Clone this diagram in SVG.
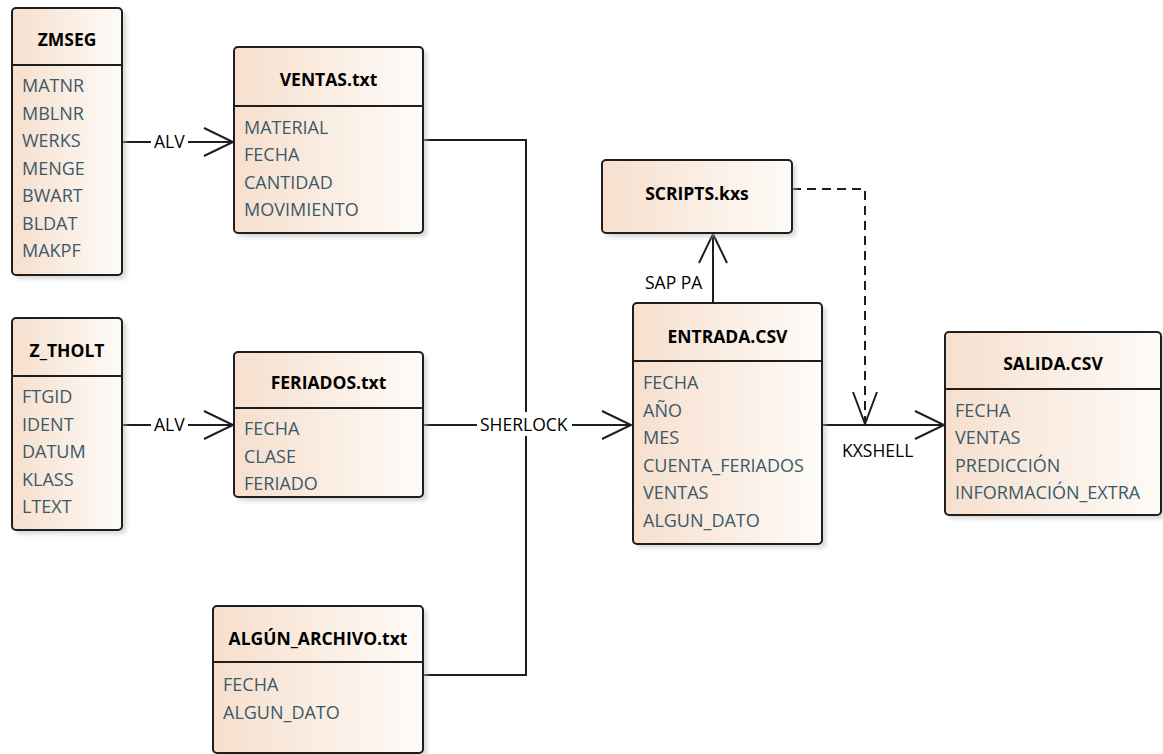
<svg xmlns="http://www.w3.org/2000/svg" width="1163" height="754" viewBox="0 0 1163 754">
  <style>
    .box { fill: url(#peach); stroke: #1e1e1e; stroke-width: 2; }
    .shadow { fill: #b8b8b8; opacity: 0.55; filter: url(#soft); }
    .div { stroke: #1e1e1e; stroke-width: 2; }
    .title { font-family: "Open Sans", "Noto Sans", sans-serif; font-weight: bold; font-size: 17.5px; fill: #000; text-anchor: middle; }
    .field { font-family: "Open Sans", "Noto Sans", sans-serif; font-size: 18px; fill: #3b5a69; }
    .lbl { font-family: "Open Sans", "Noto Sans", sans-serif; font-size: 17.5px; fill: #000; }
    .edge { fill: none; stroke: #1e1e1e; stroke-width: 2; }
    .dash { fill: none; stroke: #1e1e1e; stroke-width: 2; stroke-dasharray: 9 6; }
    .head { fill: none; stroke: #1e1e1e; stroke-width: 2; }
  </style>
  <defs>
    <linearGradient id="peach" x1="0" y1="0" x2="1" y2="0">
      <stop offset="0" stop-color="#f6dfcd"/>
      <stop offset="1" stop-color="#fefbf8"/>
    </linearGradient>
    <filter id="soft" x="-10%" y="-10%" width="120%" height="120%">
      <feGaussianBlur stdDeviation="2"/>
    </filter>
  </defs>
  <rect width="1163" height="754" fill="#fff"/>

  <!-- connectors -->
  <g id="connectors">
    <!-- ZMSEG -> VENTAS.txt (ALV) -->
    <path class="edge" d="M122 142 H233"/>
    <path class="head" d="M204 128 L233 142 L204 156"/>
    <rect x="151" y="131" width="37" height="22" fill="#fff"/>
    <text class="lbl" x="154" y="148">ALV</text>
    <!-- Z_THOLT -> FERIADOS.txt (ALV) -->
    <path class="edge" d="M122 425 H233"/>
    <path class="head" d="M204 411 L233 425 L204 439"/>
    <rect x="151" y="414" width="37" height="22" fill="#fff"/>
    <text class="lbl" x="154" y="431">ALV</text>
    <!-- sources merge into ENTRADA.CSV (SHERLOCK) -->
    <path class="edge" d="M423 140 H526 V675 H423"/>
    <path class="edge" d="M423 425 H631"/>
    <path class="head" d="M602 411 L631 425 L602 439"/>
    <rect x="477" y="412" width="95" height="24" fill="#fff"/>
    <text class="lbl" x="480" y="431">SHERLOCK</text>
    <!-- ENTRADA.CSV -> SCRIPTS.kxs (SAP PA) -->
    <path class="edge" d="M713 303 V234"/>
    <path class="head" d="M699 263 L713 234 L727 263"/>
    <text class="lbl" x="645" y="289">SAP PA</text>
    <!-- SCRIPTS.kxs -> KXSHELL connector (dashed) -->
    <path class="dash" d="M792 189 H865 V424"/>
    <path class="head" d="M853 392 L865 424 L877 392"/>
    <!-- ENTRADA.CSV -> SALIDA.CSV (KXSHELL) -->
    <path class="edge" d="M822 425 H944"/>
    <path class="head" d="M915 411 L944 425 L915 439"/>
    <text class="lbl" x="842" y="457">KXSHELL</text>
  </g>

  <!-- ZMSEG -->
  <g id="zmseg">
    <rect class="shadow" x="16" y="12" width="110" height="267" rx="4"/>
    <rect class="box" x="12" y="8" width="110" height="267" rx="4"/>
    <line class="div" x1="12" y1="65" x2="122" y2="65"/>
    <text class="title" x="67" y="46">ZMSEG</text>
    <text class="field" x="22" y="92">MATNR</text>
    <text class="field" x="22" y="119.5">MBLNR</text>
    <text class="field" x="22" y="147">WERKS</text>
    <text class="field" x="22" y="174.5">MENGE</text>
    <text class="field" x="22" y="202">BWART</text>
    <text class="field" x="22" y="229.5">BLDAT</text>
    <text class="field" x="22" y="257">MAKPF</text>
  </g>

  <!-- Z_THOLT -->
  <g id="z_tholt">
    <rect class="shadow" x="16" y="322" width="110" height="212" rx="4"/>
    <rect class="box" x="12" y="318" width="110" height="212" rx="4"/>
    <line class="div" x1="12" y1="376" x2="122" y2="376"/>
    <text class="title" x="67" y="357">Z_THOLT</text>
    <text class="field" x="22" y="403">FTGID</text>
    <text class="field" x="22" y="430.5">IDENT</text>
    <text class="field" x="22" y="458">DATUM</text>
    <text class="field" x="22" y="485.5">KLASS</text>
    <text class="field" x="22" y="513">LTEXT</text>
  </g>

  <!-- VENTAS.txt -->
  <g id="ventas">
    <rect class="shadow" x="238" y="51" width="189" height="186" rx="4"/>
    <rect class="box" x="234" y="47" width="189" height="186" rx="4"/>
    <line class="div" x1="234" y1="106" x2="423" y2="106"/>
    <text class="title" x="328.5" y="86">VENTAS.txt</text>
    <text class="field" x="244" y="134">MATERIAL</text>
    <text class="field" x="244" y="161">FECHA</text>
    <text class="field" x="244" y="188.5">CANTIDAD</text>
    <text class="field" x="244" y="216">MOVIMIENTO</text>
  </g>

  <!-- FERIADOS.txt -->
  <g id="feriados">
    <rect class="shadow" x="238" y="356" width="189" height="145" rx="4"/>
    <rect class="box" x="234" y="352" width="189" height="145" rx="4"/>
    <line class="div" x1="234" y1="408" x2="423" y2="408"/>
    <text class="title" x="328.5" y="389">FERIADOS.txt</text>
    <text class="field" x="244" y="435">FECHA</text>
    <text class="field" x="244" y="462.5">CLASE</text>
    <text class="field" x="244" y="490">FERIADO</text>
  </g>

  <!-- ALGÚN_ARCHIVO.txt -->
  <g id="algun_archivo">
    <rect class="shadow" x="217" y="610" width="210" height="147" rx="4"/>
    <rect class="box" x="213" y="606" width="210" height="147" rx="4"/>
    <line class="div" x1="213" y1="662" x2="423" y2="662"/>
    <text class="title" x="318" y="645">ALGÚN_ARCHIVO.txt</text>
    <text class="field" x="223" y="691">FECHA</text>
    <text class="field" x="223" y="718.5">ALGUN_DATO</text>
  </g>

  <!-- SCRIPTS.kxs -->
  <g id="scripts">
    <rect class="shadow" x="606" y="164" width="190" height="73" rx="4"/>
    <rect class="box" x="602" y="160" width="190" height="73" rx="4"/>
    <text class="title" x="697" y="200">SCRIPTS.kxs</text>
  </g>

  <!-- ENTRADA.CSV -->
  <g id="entrada">
    <rect class="shadow" x="637" y="307" width="189" height="241" rx="4"/>
    <rect class="box" x="633" y="303" width="189" height="241" rx="4"/>
    <line class="div" x1="633" y1="361" x2="822" y2="361"/>
    <text class="title" x="727.5" y="343">ENTRADA.CSV</text>
    <text class="field" x="643" y="389">FECHA</text>
    <text class="field" x="643" y="416.5">AÑO</text>
    <text class="field" x="643" y="444">MES</text>
    <text class="field" x="643" y="471.5">CUENTA_FERIADOS</text>
    <text class="field" x="643" y="499">VENTAS</text>
    <text class="field" x="643" y="526.5">ALGUN_DATO</text>
  </g>

  <!-- SALIDA.CSV -->
  <g id="salida">
    <rect class="shadow" x="949" y="336" width="216" height="183" rx="4"/>
    <rect class="box" x="945" y="332" width="216" height="183" rx="4"/>
    <line class="div" x1="945" y1="389" x2="1161" y2="389"/>
    <text class="title" x="1053" y="370">SALIDA.CSV</text>
    <text class="field" x="955" y="417">FECHA</text>
    <text class="field" x="955" y="444">VENTAS</text>
    <text class="field" x="955" y="471.5">PREDICCIÓN</text>
    <text class="field" x="955" y="499">INFORMACIÓN_EXTRA</text>
  </g>
</svg>
